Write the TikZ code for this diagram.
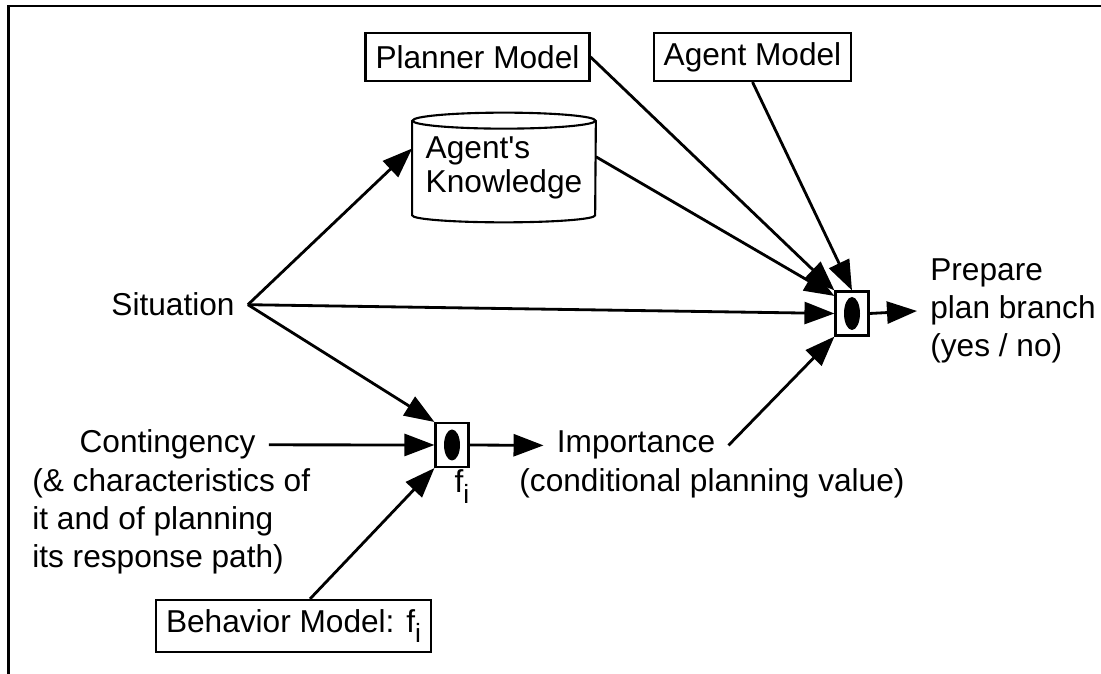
\documentclass[tikz,border=0pt]{standalone}
\usepackage{fontspec}
\setmainfont{Liberation Sans}[Ligatures=TeXOff]
\usetikzlibrary{arrows.meta}
\newcommand{\fidx}{f\raisebox{-0.32em}{\fontsize{15}{15}\selectfont i}}

\begin{document}
\begin{tikzpicture}[inner sep=0.4mm,font=\fontsize{18}{21.6}\selectfont,
  arr/.style={line width=1.6pt,-{Triangle[length=0.6cm,width=0.44cm]}},
  model/.style={draw,line width=1.2pt,inner xsep=2mm,minimum height=0.96cm},
  gate/.style={draw,line width=1.2pt,minimum width=0.66cm,minimum height=0.88cm},
  lbl/.style={inner xsep=2.6mm}]
\useasboundingbox (0,0) rectangle (22.02,13.48);
\draw[line width=1.4pt] (22.02,13.356) -- (0.174,13.356) -- (0.174,0);

\node (pm) at (9.55,12.34) [model] {Planner Model};
\node (am) at (15.05,12.34) [model] {Agent Model};
\node (bm) at (5.87,0.96) [model,minimum height=1.04cm] {Behavior Model: \fidx};

% knowledge store
\node (kb) at (10.08,10.12) [minimum width=3.66cm,minimum height=1.88cm,align=left,
  font=\fontsize{18}{19.3}\selectfont] {Agent's\\Knowledge};
\draw[line width=1.2pt] (kb.north west) -- (kb.south west)
  arc[start angle=180,end angle=360,x radius=1.83,y radius=0.14] -- (kb.north east);
\draw[line width=1.2pt] (kb.north) ellipse[x radius=1.83,y radius=0.16];

\node (tb) at (17.04,7.21) [gate] {};
\fill (tb) ellipse[x radius=0.16,y radius=0.33];
\node (lb) at (9.04,4.58) [gate] {};
\fill (lb) ellipse[x radius=0.16,y radius=0.31];
\node (fi) at (9.24,3.62) [anchor=base] {\fidx};

\node (sit) at (3.46,7.16) [lbl,anchor=base] {Situation};
\node (cont) at (3.35,4.42) [lbl,anchor=base] {Contingency};
\node (contnote) at (0.38,3.06) [lbl,anchor=west,align=left]
  {(\& characteristics of\\it and of planning\\its response path)};
\node (imp) at (12.72,4.42) [lbl,anchor=base] {Importance};
\node (impnote) at (14.24,3.64) [lbl,anchor=base] {(conditional planning value)};
\node (prep) at (18.34,7.26) [lbl,anchor=west,align=left] {Prepare\\plan branch\\(yes / no)};

\draw[arr] (sit.east) -- (kb.168);
\draw[arr] (sit.east) -- (tb.west);
\draw[arr] (sit.east) -- (lb.north west);
\draw[arr] (pm.east) -- (tb.north west);
\draw[arr] (kb.7) -- (tb.135);
\draw[arr] (am.south) -- (tb.north);
\draw[arr] (imp.east) -- (tb.south west);
\draw[arr] (tb.east) -- (prep.west);
\draw[arr] (cont.east) -- (lb.west);
\draw[arr] ([xshift=0.33cm]bm.north) -- (lb.south west);
\draw[arr] (lb.east) -- (imp.west);
\end{tikzpicture}
\end{document}
